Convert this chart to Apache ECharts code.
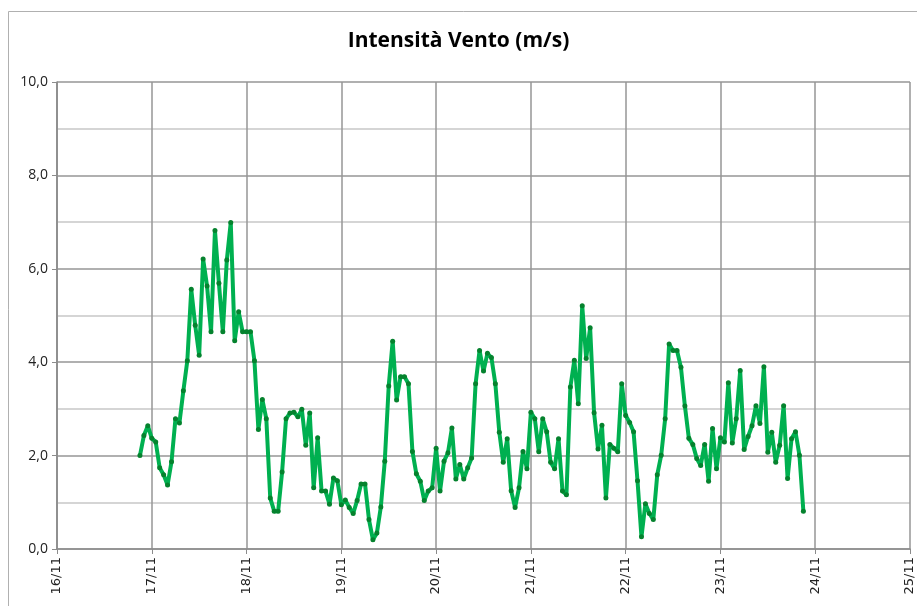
<!DOCTYPE html>
<html>
<head>
<meta charset="utf-8">
<title>Intensità Vento (m/s)</title>
<script src="https://cdn.jsdelivr.net/npm/echarts@6/dist/echarts.min.js"></script>
<style>
  html, body { margin: 0; padding: 0; background: #fff; }
  #chart { width: 917px; height: 606px; }
</style>
</head>
<body>
<div id="chart"></div>
<script>
// dati orari dal 16/11 ore 21:00
const startTime = new Date(2024, 10, 16, 21, 0, 0).getTime()
const stepMs = 3600 * 1000
const axisMin = new Date(2024, 10, 16).getTime()
const axisMax = new Date(2024, 10, 25).getTime()

const windSpeed = [
  2.0, 2.43, 2.64, 2.37, 2.29, 1.74, 1.59, 1.37, 1.87, 2.79,
  2.70, 3.39, 4.03, 5.56, 4.79, 4.15, 6.21, 5.63, 4.65, 6.82,
  5.69, 4.65, 6.19, 6.99, 4.46, 5.08, 4.65, 4.65, 4.65, 4.03,
  2.56, 3.2, 2.79, 1.09, 0.81, 0.81, 1.65, 2.79, 2.91, 2.93,
  2.83, 2.99, 2.22, 2.91, 1.31, 2.38, 1.24, 1.24, 0.96, 1.52,
  1.46, 0.95, 1.05, 0.89, 0.76, 1.04, 1.39, 1.39, 0.63, 0.2,
  0.34, 0.9, 1.88, 3.49, 4.45, 3.19, 3.69, 3.69, 3.54, 2.09,
  1.61, 1.45, 1.04, 1.24, 1.31, 2.16, 1.24, 1.88, 2.06, 2.59,
  1.5, 1.81, 1.5, 1.74, 1.95, 3.54, 4.25, 3.81, 4.19, 4.1,
  3.54, 2.5, 1.86, 2.36, 1.25, 0.89, 1.31, 2.09, 1.72, 2.93,
  2.79, 2.08, 2.79, 2.51, 1.86, 1.72, 2.36, 1.24, 1.16, 3.47,
  4.04, 3.11, 5.21, 4.08, 4.74, 2.92, 2.14, 2.65, 1.09, 2.24,
  2.16, 2.08, 3.54, 2.86, 2.71, 2.51, 1.46, 0.26, 0.97, 0.76,
  0.63, 1.59, 2.01, 2.79, 4.39, 4.25, 4.25, 3.89, 3.06, 2.37,
  2.24, 1.94, 1.79, 2.24, 1.45, 2.58, 1.72, 2.38, 2.29, 3.56,
  2.27, 2.79, 3.82, 2.13, 2.41, 2.64, 3.07, 2.69, 3.9, 2.07,
  2.5, 1.86, 2.22, 3.07, 1.51, 2.36, 2.51, 2.01, 0.81
]

const seriesData = windSpeed.map((v, i) => [startTime + i * stepMs, v])

const pad2 = n => (n < 10 ? '0' : '') + n

const chart = echarts.init(document.getElementById('chart'))

const option = {
  animation: false,
  backgroundColor: '#fff',
  title: {
    text: 'Intensità Vento (m/s)',
    left: 'center',
    top: 26,
    textStyle: {
      fontFamily: 'Open Sans',
      fontWeight: 'bold',
      fontSize: 21,
      color: '#000'
    }
  },
  graphic: [
    {
      type: 'rect',
      shape: { x: 8.5, y: 11.5, width: 940, height: 640 },
      style: { fill: 'none', stroke: '#b0b0b0', lineWidth: 1 },
      silent: true
    }
  ],
  grid: {
    left: 57,
    right: 7,
    top: 82,
    bottom: 57
  },
  xAxis: {
    type: 'time',
    min: axisMin,
    max: axisMax,
    interval: 24 * 3600 * 1000,
    axisLine: { show: true, lineStyle: { color: '#8c8c8c', width: 1.5 } },
    axisTick: { show: true, length: 5, lineStyle: { color: '#8c8c8c' } },
    splitLine: { show: true, lineStyle: { color: '#969696', width: 1.5 } },
    axisLabel: {
      rotate: 90,
      margin: 8,
      fontFamily: 'DejaVu Sans',
      fontSize: 13,
      color: '#222',
      showMinLabel: true,
      showMaxLabel: true,
      formatter: value => {
        const d = new Date(value)
        return pad2(d.getDate()) + '/' + pad2(d.getMonth() + 1)
      }
    }
  },
  yAxis: {
    type: 'value',
    min: 0,
    max: 10,
    interval: 2,
    axisLine: { show: true, lineStyle: { color: '#8c8c8c', width: 1.5 } },
    axisTick: { show: true, length: 5, lineStyle: { color: '#8c8c8c' } },
    splitLine: { show: true, lineStyle: { color: '#969696', width: 1.5 } },
    minorTick: { show: false, splitNumber: 2 },
    minorSplitLine: { show: true, lineStyle: { color: '#c8c8c8', width: 1.5 } },
    axisLabel: {
      margin: 9,
      fontFamily: 'Open Sans',
      fontSize: 14,
      color: '#222',
      formatter: v => v.toFixed(1).replace('.', ',')
    }
  },
  series: [
    {
      name: 'Intensità Vento',
      type: 'line',
      data: seriesData,
      symbol: 'circle',
      symbolSize: 5,
      showAllSymbol: true,
      lineStyle: { color: '#00b050', width: 4 },
      itemStyle: { color: '#05822e' }
    }
  ]
}

chart.setOption(option)
</script>
</body>
</html>
